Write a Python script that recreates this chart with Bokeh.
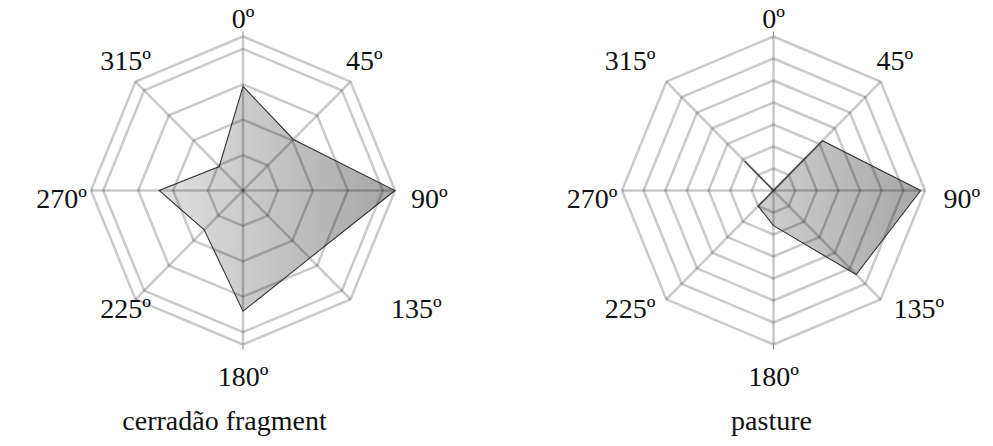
import numpy as np
from bokeh.plotting import figure
from bokeh.models import Range1d, ColumnDataSource
from bokeh.core.properties import value
from bokeh.embed import file_html
from bokeh.resources import INLINE

# ---------------- data ----------------
directions = [0, 45, 90, 135, 180, 225, 270, 315]
direction_labels = ["0º", "45º", "90º", "135º", "180º", "225º", "270º", "315º"]
cerradao_values = [29.4, 20.4, 43.5, 27.0, 34.1, 15.7, 24.0, 9.6]
cerradao_rings = [10, 20, 30, 40, 43.5]
pasture_values = [0, 32, 68, 54, 16, 10, 0, 19]
pasture_rings = [10, 20, 30, 40, 50, 60, 70]
titles = ["cerradão fragment", "pasture"]

# ---------------- layout ----------------
W, H = 993, 446
FONT = value("Liberation Serif")
FSIZE = value("28px")
GRID_COLOR = "#000000"
GRID_ALPHA = 0.21

# label placement per chart: direction -> (dx, dy of baseline, align)
left_labels = {0: (0, -172, "center"), 45: (103, -130, "left"), 90: (168, 8, "left"),
               135: (148, 118, "left"), 180: (0, 186, "center"), 225: (-92, 118, "right"),
               270: (-156, 8, "right"), 315: (-92, -130, "right")}
right_labels = {0: (0, -172, "center"), 45: (103, -130, "left"), 90: (170, 8, "left"),
                135: (120, 118, "left"), 180: (0, 186, "center"), 225: (-118, 118, "right"),
                270: (-156, 8, "right"), 315: (-118, -130, "right")}

charts = [
    dict(cx=242.5, cy=190, rx=152, ry=154, values=cerradao_values, rings=cerradao_rings,
         title=titles[0], tx=224, labels=left_labels),
    dict(cx=773, cy=190, rx=151.5, ry=154, values=pasture_values, rings=pasture_rings,
         title=titles[1], tx=771, labels=right_labels),
]

p = figure(width=W, height=H, x_range=Range1d(0, W), y_range=Range1d(H, 0),
           output_backend="svg", toolbar_location=None, min_border=0,
           x_axis_type=None, y_axis_type=None)
p.grid.visible = False
p.outline_line_color = None
p.background_fill_color = "white"
p.border_fill_color = "white"


def clip_half(pts, inside, xc):
    out = []
    n = len(pts)
    for i in range(n):
        cur, prev = pts[i], pts[i - 1]
        ci, pi = inside(cur), inside(prev)
        if ci:
            if not pi:
                t = (xc - prev[0]) / (cur[0] - prev[0])
                out.append((xc, prev[1] + t * (cur[1] - prev[1])))
            out.append(cur)
        elif pi:
            t = (xc - prev[0]) / (cur[0] - prev[0])
            out.append((xc, prev[1] + t * (cur[1] - prev[1])))
    return out


def clip_strip(pts, x0, x1):
    pts = clip_half(pts, lambda q: q[0] >= x0, x0)
    if len(pts) < 3:
        return []
    pts = clip_half(pts, lambda q: q[0] <= x1, x1)
    return pts if len(pts) >= 3 else []


def lerp_color(c0, c1, t):
    return "#%02x%02x%02x" % tuple(int(round(a + (b - a) * t)) for a, b in zip(c0, c1))


theta = np.radians(np.array(directions, dtype=float))
for ch in charts:
    cx, cy, rx, ry = ch["cx"], ch["cy"], ch["rx"], ch["ry"]
    vmax = max(ch["rings"])
    frac = np.array(ch["values"], dtype=float) / vmax
    px = cx + rx * frac * np.sin(theta)
    py = cy - ry * frac * np.cos(theta)
    poly = list(zip(px, py))

    # gradient fill via vertical strips
    xs_list, ys_list, cols = [], [], []
    left, right = cx - rx, cx + rx
    nstrip = 90
    edges = np.linspace(left, right, nstrip + 1)
    for i in range(nstrip):
        x0, x1 = edges[i] - 0.4, edges[i + 1] + 0.4
        c = clip_strip(poly, x0, x1)
        if c:
            xs_list.append([q[0] for q in c])
            ys_list.append([q[1] for q in c])
            t = (0.5 * (edges[i] + edges[i + 1]) - left) / (right - left)
            cols.append(lerp_color((242, 242, 242), (166, 166, 166), t))
    p.patches(xs=xs_list, ys=ys_list, fill_color=cols, line_color=None)

    # rings
    for rv in ch["rings"]:
        f = rv / vmax
        ox = list(cx + rx * f * np.sin(theta)) + [cx + rx * f * np.sin(theta[0])]
        oy = list(cy - ry * f * np.cos(theta)) + [cy - ry * f * np.cos(theta[0])]
        p.line(ox, oy, line_color=GRID_COLOR, line_alpha=GRID_ALPHA, line_width=2.5)
    # spokes
    for th in theta:
        p.line([cx, cx + rx * np.sin(th)], [cy, cy - ry * np.cos(th)],
               line_color=GRID_COLOR, line_alpha=GRID_ALPHA, line_width=2.5)
    # small ticks at ends of vertical axis
    p.segment(x0=[cx, cx], y0=[cy - ry, cy + ry], x1=[cx, cx], y1=[cy - ry - 5, cy + ry + 5],
              line_color="#888888", line_width=1)

    # outline of data polygon
    p.line(list(px) + [px[0]], list(py) + [py[0]], line_color="#333333", line_width=1.1,
           line_join="miter")

    # direction labels
    lx, ly, la = [], [], []
    for d in directions:
        dx, dy, al = ch["labels"][d]
        lx.append(cx + dx)
        ly.append(cy + dy)
        la.append(al)
    src = ColumnDataSource(dict(x=lx, y=ly, t=direction_labels, a=la))
    p.text(x="x", y="y", text="t", text_align="a", text_baseline="alphabetic",
           text_font=FONT, text_font_size=FSIZE, text_color="#111111", source=src)

    # caption
    p.text(x=[ch["tx"]], y=[420], text=[ch["title"]], text_align="center",
           text_baseline="alphabetic", text_font=FONT, text_font_size=FSIZE,
           text_color="#111111")

open("out.html", "w").write(file_html(p, INLINE))
